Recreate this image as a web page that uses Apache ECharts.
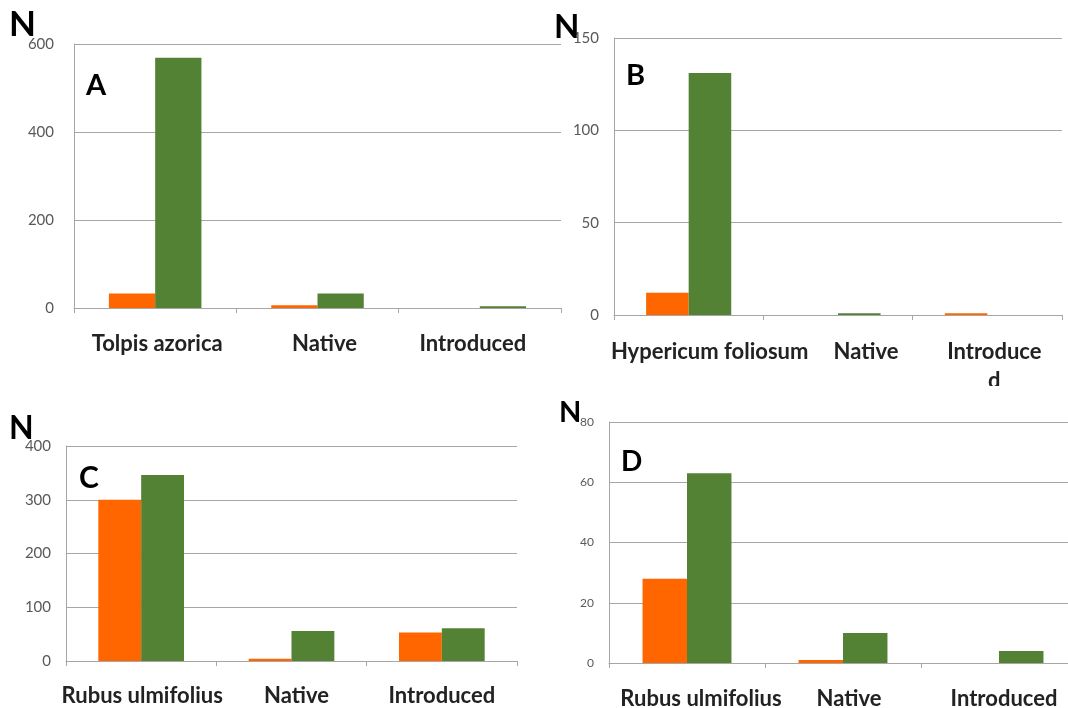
<!DOCTYPE html>
<html>
<head>
<meta charset="utf-8">
<script src="https://cdn.jsdelivr.net/npm/echarts@6/dist/echarts.min.js"></script>
<style>
  html, body { margin: 0; padding: 0; background: #fff; overflow: hidden; width: 1068px; height: 708px; }
  .panel { position: absolute; left: 0; top: 0; }
</style>
</head>
<body>
<div id="panelA" class="panel" style="width:1068px;height:708px"></div>
<div id="panelB" class="panel" style="width:1068px;height:386px;overflow:hidden"></div>
<div id="panelC" class="panel" style="width:1068px;height:708px"></div>
<div id="panelD" class="panel" style="width:1090px;height:708px"></div>
<script>
// Category tick labels of each panel
const categoriesA = ['Tolpis azorica', 'Native', 'Introduced'];
const categoriesB = ['Hypericum foliosum', 'Native', 'Introduce\nd'];
const categoriesC = ['Rubus ulmifolius', 'Native', 'Introduced'];
const categoriesD = ['Rubus ulmifolius', 'Native', 'Introduced'];

// Counts (N) per category: orange series and green series
const orangeA = [33, 6, 0];
const greenA  = [569, 33, 4];
const orangeB = [12, 0, 1];
const greenB  = [131, 1, 0];
const orangeC = [300, 4, 53];
const greenC  = [346, 56, 61];
const orangeD = [28, 1, 0];
const greenD  = [63, 10, 4];

// Value axis ranges and tick steps
const yMaxA = 600, yStepA = 200;
const yMaxB = 150, yStepB = 50;
const yMaxC = 400, yStepC = 100;
const yMaxD = 80,  yStepD = 20;

// Panel letters
const lettersA = ['N', 'A'];
const lettersB = ['N', 'B'];
const lettersC = ['N', 'C'];
const lettersD = ['N', 'D'];

const ORANGE = '#FF6600';
const GREEN = '#538234';
const AXIS_GREY = '#A6A6A6';
const FONT = 'Lato, "Open Sans", sans-serif';

function capText(text, left, capTop, size) {
  return {
    type: 'text',
    left: left,
    top: capTop - Math.round(size * 0.13),
    z: 100,
    style: { text: text, fontFamily: FONT, fontWeight: 'bold', fontSize: size, fill: '#000' }
  };
}

function buildPanel(id, p) {
  const chart = echarts.init(document.getElementById(id), null, { renderer: 'canvas' });
  const rich = {};
  p.shift.forEach(function (s, i) {
    rich['c' + i] = {
      fontFamily: FONT, fontWeight: 'bold', fontSize: p.catFont, color: '#222222',
      lineHeight: p.catLineHeight,
      padding: s >= 0 ? [0, 0, 0, 2 * s] : [0, -2 * s, 0, 0]
    };
  });
  chart.setOption({
    animation: false,
    backgroundColor: 'transparent',
    grid: {
      left: p.grid[0], top: p.grid[1], width: p.grid[2], height: p.grid[3],
      containLabel: false, outerBoundsMode: 'none'
    },
    xAxis: {
      type: 'category',
      data: p.categories,
      axisLine: { show: true, lineStyle: { color: AXIS_GREY, width: 1 } },
      axisTick: { show: true, length: 5, lineStyle: { color: AXIS_GREY } },
      axisLabel: {
        interval: 0,
        margin: p.catMargin,
        formatter: function (v, i) { return '{c' + i + '|' + v + '}'; },
        rich: rich
      },
      splitLine: { show: false }
    },
    yAxis: {
      type: 'value',
      min: 0,
      max: p.yMax,
      interval: p.yStep,
      axisLine: { show: true, lineStyle: { color: AXIS_GREY, width: 1 } },
      axisTick: { show: false },
      splitLine: { show: true, lineStyle: { color: AXIS_GREY, width: 1 } },
      axisLabel: { margin: p.yMargin, fontFamily: FONT, fontSize: p.yFont, color: '#595959' }
    },
    series: [
      { type: 'bar', data: p.orange, itemStyle: { color: ORANGE }, barGap: '0%', barCategoryGap: '43%' },
      { type: 'bar', data: p.green, itemStyle: { color: GREEN }, barGap: '0%', barCategoryGap: '43%' }
    ],
    graphic: [
      capText(p.letters[0], p.nPos[0], p.nPos[1], p.nSize),
      capText(p.letters[1], p.lPos[0], p.lPos[1], p.lSize)
    ]
  });
}

buildPanel('panelA', {
  categories: categoriesA, orange: orangeA, green: greenA, yMax: yMaxA, yStep: yStepA, letters: lettersA,
  grid: [74, 44, 487, 264], catFont: 22, catLineHeight: 26, catMargin: 23, shift: [2, 7, -7],
  yFont: 15, yMargin: 20, nPos: [9, 12], nSize: 35, lPos: [86, 75], lSize: 29
});
buildPanel('panelB', {
  categories: categoriesB, orange: orangeB, green: greenB, yMax: yMaxB, yStep: yStepB, letters: lettersB,
  grid: [614, 38, 448, 277], catFont: 22, catLineHeight: 29, catMargin: 22, shift: [21, 28, 7],
  yFont: 15, yMargin: 15, nPos: [554, 15], nSize: 33, lPos: [626, 65], lSize: 29
});
buildPanel('panelC', {
  categories: categoriesC, orange: orangeC, green: greenC, yMax: yMaxC, yStep: yStepC, letters: lettersC,
  grid: [66, 446, 451, 215], catFont: 22, catLineHeight: 26, catMargin: 22, shift: [1, 5, 0],
  yFont: 15, yMargin: 15, nPos: [9, 417], nSize: 32, lPos: [79, 467], lSize: 30
});
buildPanel('panelD', {
  categories: categoriesD, orange: orangeD, green: greenD, yMax: yMaxD, yStep: yStepD, letters: lettersD,
  grid: [609, 422, 468, 241], catFont: 22, catLineHeight: 26, catMargin: 23, shift: [14, 6, 5],
  yFont: 12, yMargin: 15, nPos: [559, 402], nSize: 29, lPos: [621, 452], lSize: 28
});
</script>
</body>
</html>
